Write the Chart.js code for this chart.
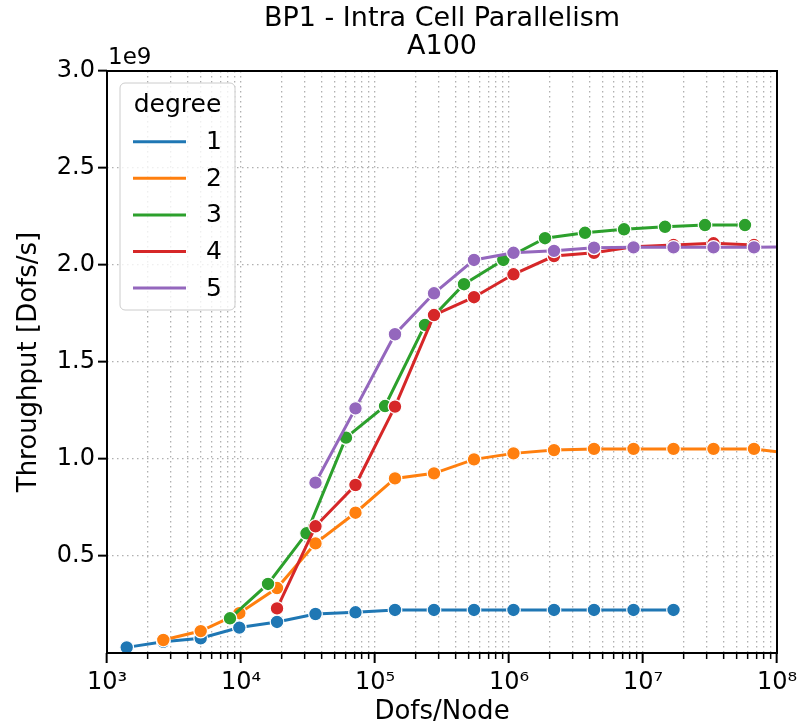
<!DOCTYPE html>
<html>
<head>
<meta charset="utf-8">
<title>BP1 - Intra Cell Parallelism</title>
<script src="https://cdn.jsdelivr.net/npm/chart.js@4.4.0/dist/chart.umd.min.js"></script>
<style>
  html, body { margin: 0; padding: 0; background: #fff; }
  #wrap { width: 800px; height: 725px; }
</style>
</head>
<body>
<div id="wrap"><canvas id="myChart" width="800" height="725"></canvas></div>
<script>
// Dofs/Node (x) and throughput in 1e9 Dofs/s (y), one pair of arrays per degree
const degrees = ['1', '2', '3', '4', '5'];

const dofsDeg1 = [1403, 2632, 5003, 9712, 18570, 35970, 71530, 141000, 275600, 548100, 1080000, 2167000, 4309000, 8497000, 16890000];
const tputDeg1 = [0.029, 0.058, 0.076, 0.131, 0.160, 0.201, 0.210, 0.222, 0.222, 0.222, 0.222, 0.222, 0.222, 0.222, 0.222];

const dofsDeg2 = [2632, 5003, 9712, 18570, 35970, 71530, 141000, 275600, 548100, 1080000, 2167000, 4309000, 8497000, 16890000, 33580000, 67350000, 131600000];
const tputDeg2 = [0.067, 0.113, 0.205, 0.335, 0.565, 0.723, 0.900, 0.926, 0.998, 1.029, 1.046, 1.052, 1.052, 1.052, 1.052, 1.052, 1.028];

const dofsDeg3 = [8276, 15906, 30820, 60760, 118800, 236100, 461600, 907000, 1857000, 3692000, 7216000, 14600000, 29020000, 57700000];
const tputDeg3 = [0.179, 0.356, 0.617, 1.110, 1.273, 1.691, 1.901, 2.026, 2.138, 2.166, 2.184, 2.197, 2.206, 2.206];

const dofsDeg4 = [18570, 35970, 71530, 141000, 275600, 548100, 1080000, 2167000, 4309000, 8497000, 16890000, 33580000, 67350000];
const tputDeg4 = [0.230, 0.653, 0.866, 1.270, 1.742, 1.834, 1.952, 2.046, 2.063, 2.094, 2.103, 2.112, 2.103];

const dofsDeg5 = [35970, 71530, 141000, 275600, 548100, 1080000, 2167000, 4309000, 8497000, 16890000, 33580000, 67350000, 131600000];
const tputDeg5 = [0.878, 1.261, 1.643, 1.854, 2.026, 2.063, 2.073, 2.089, 2.091, 2.091, 2.091, 2.091, 2.095];

// axis ticks and texts
const xMajorExps = [3, 4, 5, 6, 7, 8];
const yTickValues = [0.5, 1.0, 1.5, 2.0, 2.5, 3.0];
const yOffsetText = '1e9';
const titleLines = ['BP1 - Intra Cell Parallelism', 'A100'];

const colors = ['#1f77b4', '#ff7f0e', '#2ca02c', '#d62728', '#9467bd'];
const FONT = "'DejaVu Sans', sans-serif";
const supDigits = { 3: '\u00b3', 4: '\u2074', 5: '\u2075', 6: '\u2076', 7: '\u2077', 8: '\u2078' };

const allDofs = [dofsDeg1, dofsDeg2, dofsDeg3, dofsDeg4, dofsDeg5];
const allTput = [tputDeg1, tputDeg2, tputDeg3, tputDeg4, tputDeg5];

// log ticks: 1..9 x 10^k, last decade only the major one
let xTickValues = [];
xMajorExps.forEach(function (e, k) {
  if (k === xMajorExps.length - 1) {
    xTickValues.push(Math.pow(10, e));
    return;
  }
  for (let m = 1; m <= 9; m++) xTickValues.push(m * Math.pow(10, e));
});

function isMajor(v) {
  const e = Math.log10(v);
  return Math.abs(e - Math.round(e)) < 1e-9;
}

const datasets = degrees.map(function (deg, i) {
  return {
    label: deg,
    data: allDofs[i].map((x, j) => ({ x: x, y: allTput[i][j] })),
    borderColor: colors[i],
    backgroundColor: colors[i],
    borderWidth: 3,
    pointRadius: 6.8,
    pointHoverRadius: 6.8,
    pointBorderColor: '#ffffff',
    pointBorderWidth: 1.2,
    tension: 0,
    clip: 0,
    order: degrees.length - i
  };
});

// title, frame, offset text and legend drawn on top of the plot
const decorPlugin = {
  id: 'decor',
  afterDraw(chart) {
    const ctx = chart.ctx;
    const a = chart.chartArea;
    ctx.save();
    ctx.strokeStyle = '#000';
    ctx.lineWidth = 2;
    ctx.strokeRect(a.left, a.top, a.right - a.left, a.bottom - a.top);

    ctx.fillStyle = '#000';
    ctx.textBaseline = 'middle';
    ctx.textAlign = 'center';
    ctx.font = '27px ' + FONT;
    ctx.fillText(titleLines[0], (a.left + a.right) / 2, 19);
    ctx.fillText(titleLines[1], (a.left + a.right) / 2, 47);

    ctx.font = '23px ' + FONT;
    ctx.textAlign = 'left';
    ctx.fillText(yOffsetText, a.left + 1, a.top - 13);

    // legend
    const bx = 120, by = 83, bw = 115, bh = 227;
    ctx.beginPath();
    ctx.roundRect(bx, by, bw, bh, 5);
    ctx.fillStyle = 'rgba(255,255,255,0.8)';
    ctx.fill();
    ctx.strokeStyle = '#cccccc';
    ctx.lineWidth = 1;
    ctx.stroke();

    ctx.fillStyle = '#000';
    ctx.font = '25px ' + FONT;
    ctx.textAlign = 'center';
    ctx.fillText('degree', bx + bw / 2, 105);
    ctx.textAlign = 'left';
    degrees.forEach(function (deg, i) {
      const y = 141.7 + 36.6 * i;
      ctx.strokeStyle = colors[i];
      ctx.lineWidth = 3;
      ctx.beginPath();
      ctx.moveTo(133, y);
      ctx.lineTo(186, y);
      ctx.stroke();
      ctx.fillStyle = '#000';
      ctx.fillText(deg, 206, y + 1);
    });
    ctx.restore();
  }
};

const gridDash = [1.5, 3.5];

new Chart(document.getElementById('myChart').getContext('2d'), {
  type: 'line',
  data: { datasets: datasets },
  plugins: [decorPlugin],
  options: {
    responsive: false,
    devicePixelRatio: 1,
    animation: false,
    events: [],
    layout: { padding: { left: 0, right: 23, top: 71, bottom: 0 } },
    plugins: {
      legend: { display: false },
      tooltip: { enabled: false },
      title: { display: false }
    },
    scales: {
      x: {
        type: 'logarithmic',
        position: 'bottom',
        min: 1e3,
        max: 1e8,
        afterBuildTicks: function (scale) {
          scale.ticks = xTickValues.map(v => ({ value: v, major: isMajor(v) }));
        },
        afterFit: function (scale) {
          scale.height = 72;
          scale.paddingLeft = 0;
          scale.paddingRight = 0;
        },
        ticks: {
          autoSkip: false,
          maxRotation: 0,
          color: '#000',
          padding: 5,
          font: { family: FONT, size: 24 },
          callback: function (value) {
            if (!isMajor(value)) return '';
            return '10' + supDigits[Math.round(Math.log10(value))];
          }
        },
        grid: {
          color: '#b0b0b0',
          lineWidth: 1.3,
          borderDash: gridDash,
          tickLength: 10,
          tickColor: '#000',
          tickWidth: ctx => (ctx.tick && isMajor(ctx.tick.value) ? 2 : 1.5),
          tickBorderDash: ctx => (ctx.tick && isMajor(ctx.tick.value) ? [] : [6, 40])
        },
        border: { display: false, dash: gridDash },
        title: {
          display: true,
          text: 'Dofs/Node',
          color: '#000',
          font: { family: FONT, size: 26, lineHeight: 1.0 },
          padding: { top: 0, bottom: 0 }
        }
      },
      y: {
        type: 'linear',
        min: 0,
        max: 3.0,
        afterBuildTicks: function (scale) {
          scale.ticks = yTickValues.map(v => ({ value: v }));
        },
        afterFit: function (scale) { scale.width = 107; },
        ticks: {
          color: '#000',
          padding: 3,
          font: { family: FONT, size: 24 },
          callback: value => value.toFixed(1)
        },
        grid: {
          color: '#b0b0b0',
          lineWidth: 1.3,
          borderDash: gridDash,
          tickLength: 9,
          tickColor: '#000',
          tickWidth: 2,
          tickBorderDash: []
        },
        border: { display: false, dash: gridDash },
        title: {
          display: true,
          text: 'Throughput [Dofs/s]',
          color: '#000',
          font: { family: FONT, size: 26, lineHeight: 1.2 },
          padding: { top: 14, bottom: 0 }
        }
      }
    }
  }
});
</script>
</body>
</html>
